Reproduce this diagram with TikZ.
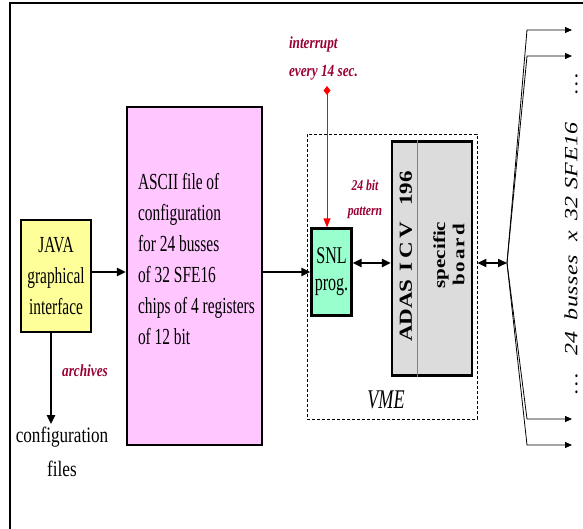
\documentclass[tikz,border=0pt]{standalone}
\usepackage{fontspec}
\setmainfont{Liberation Serif}
\newfontfamily\narrowfont[FakeStretch=0.78]{Liberation Serif}
\newfontfamily\condfont[FakeStretch=0.67]{Liberation Serif}
\usepackage{graphicx}
\usetikzlibrary{arrows.meta}
\definecolor{javayellow}{HTML}{FFFF99}
\definecolor{asciipink}{HTML}{FFC6FF}
\definecolor{snlgreen}{HTML}{99FFCC}
\definecolor{adasgray}{HTML}{DCDCDC}
\definecolor{notered}{HTML}{990033}

\begin{document}
\begin{tikzpicture}[x=1pt,y=-1pt,line width=2pt,>={Triangle[length=9pt,width=8pt]},
  box/.style={draw,line width=2.2pt,inner sep=0pt},
  note/.style={text=notered,inner sep=1pt},
  fanline/.style={line width=0.8pt,-{Triangle[length=7pt,width=6pt]}}]
\useasboundingbox (0,0) rectangle (583,529);
% frame
\draw[line width=1.5pt] (10,529) -- (10,3) -- (583,3);
% JAVA interface
\node[box,fill=javayellow,minimum width=70pt,minimum height=112pt,align=center,
  font=\condfont\fontsize{23}{31}\selectfont] (java) at (56,276) {JAVA\\graphical\\interface};
% ASCII file
\node[box,fill=asciipink,minimum width=135pt,minimum height=338pt] (ascii) at (194.5,276) {};
\node[anchor=west,align=left,inner sep=0pt,font=\condfont\fontsize{23}{31}\selectfont]
  (asciitext) at (137,259) {ASCII file of\\configuration\\for 24 busses\\of 32 SFE16\\chips of 4 registers\\of 12 bit};
% VME crate
\node[draw,dash pattern=on 3pt off 2pt,line width=0.8pt,minimum width=170pt,minimum height=285pt] (vme) at (392,276.5) {};
\node[font=\condfont\itshape\fontsize{27}{27}\selectfont] (vmetext) at (386,400) {VME};
% SNL program
\node[box,fill=snlgreen,minimum width=40pt,minimum height=87pt,align=center,
  font=\condfont\fontsize{24}{27}\selectfont] (snl) at (331.5,272) {SNL\\prog.};
% ADAS board
\node[box,fill=adasgray,minimum width=80pt,minimum height=234pt] (adas) at (432,258.5) {};
\draw[line width=1pt,gray] ([xshift=-14.5pt]adas.north) -- ([xshift=-14.5pt]adas.south);
\node[rotate=90,font=\bfseries\fontsize{23}{23}\selectfont] (adastext) at (406,256.5)
  {\scalebox{1}[0.8]{ADAS\hspace{8pt}I\,C\,V\hspace{16pt}196}};
\node[rotate=90,font=\bfseries\fontsize{21}{24}\selectfont] (boardtext) at (451,255)
  {\scalebox{1}[0.8]{\begin{tabular}{@{}c@{}}specific\\b\kern2pt o\kern2pt a\kern2pt r\kern2pt d\end{tabular}}};
% interrupt
\node[note,anchor=west,align=left,font=\narrowfont\bfseries\itshape\fontsize{17}{28}\selectfont]
  (irqtext) at (287,58) {interrupt\\every 14 sec.};
\coordinate (irq) at (327,86);
\draw[red,line width=1pt,{Diamond[length=9pt,width=7pt]}-{Triangle[length=9pt,width=7pt]}]
  (irq) -- (irq |- snl.north);
\node[note,align=center,font=\narrowfont\bfseries\itshape\fontsize{15}{25}\selectfont]
  (pattern) at (365,199) {24 bit\\pattern};
% data flow
\draw[->] (java.east |- snl.west) -- (ascii.west |- snl.west);
\draw[->] (ascii.east |- snl.west) -- (snl.west);
\draw[<->] ([yshift=9pt]snl.east) -- ([yshift=9pt]snl.east -| adas.west);
\coordinate (apex) at (507,263);
\draw[<->] ([yshift=9pt]snl.east -| vme.east) -- (apex);
% busses
\foreach \y [count=\i] in {30,56,419,445} {
  \coordinate (bus\i) at (572,\y);
  \draw[fanline] (apex) -- (527,\y) -- (bus\i);
}
\node[rotate=90,font=\itshape\fontsize{24}{24}\selectfont\addfontfeature{LetterSpace=2}] (bustext) at (571,233.5)
  {\scalebox{1}[0.78]{\dots\hspace{17pt}24\hspace{11pt}busses\hspace{14pt}x\hspace{10pt}32 SFE16\hspace{28pt}\dots}};
% archives
\node[font=\narrowfont\fontsize{22}{34}\selectfont,align=center,inner sep=2pt] (files) at (62,452)
  {configuration\\files};
\draw[->] ([xshift=-5pt]java.south) -- ([xshift=-5pt]java.south |- files.north);
\node[note,font=\narrowfont\bfseries\itshape\fontsize{17}{17}\selectfont] (archtext) at (85,371) {archives};
\end{tikzpicture}
\end{document}
